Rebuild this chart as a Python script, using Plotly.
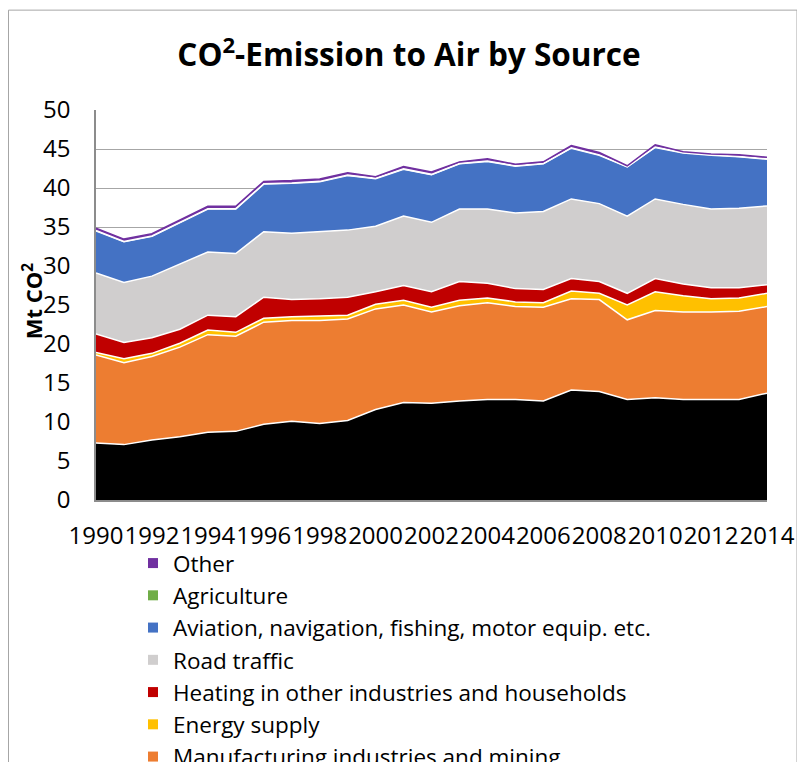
import plotly.graph_objects as go

years = list(range(1990, 2015))

oil_gas = [7.3, 7.1, 7.7, 8.1, 8.7, 8.8, 9.7, 10.1, 9.8, 10.2, 11.6, 12.5, 12.4,
           12.7, 12.9, 12.9, 12.7, 14.1, 13.9, 12.9, 13.1, 12.9, 12.9, 12.9, 13.7]
manufacturing = [11.3, 10.5, 10.7, 11.5, 12.5, 12.2, 13.1, 12.9, 13.2, 13.0, 12.9, 12.5, 11.7,
                 12.2, 12.4, 11.9, 12.0, 11.7, 11.8, 10.2, 11.2, 11.2, 11.2, 11.3, 11.1]
energy_supply = [0.3, 0.5, 0.4, 0.5, 0.6, 0.5, 0.5, 0.5, 0.6, 0.5, 0.6, 0.6, 0.6,
                 0.7, 0.6, 0.6, 0.6, 1.0, 0.8, 1.9, 2.4, 2.1, 1.7, 1.7, 1.7]
heating = [2.4, 2.1, 2.0, 1.8, 1.9, 2.0, 2.7, 2.2, 2.2, 2.3, 1.6, 1.9, 2.0,
           2.4, 1.9, 1.7, 1.7, 1.6, 1.5, 1.5, 1.7, 1.5, 1.4, 1.3, 1.1]
road_traffic = [7.8, 7.7, 7.9, 8.4, 8.1, 8.1, 8.4, 8.5, 8.6, 8.6, 8.4, 8.9, 8.9,
                9.3, 9.5, 9.7, 10.0, 10.2, 10.0, 9.9, 10.2, 10.2, 10.1, 10.2, 10.1]
aviation = [5.4, 5.2, 5.1, 5.3, 5.5, 5.7, 6.1, 6.4, 6.4, 7.0, 6.1, 6.0, 6.1,
            5.8, 6.1, 6.0, 6.1, 6.5, 6.2, 6.3, 6.6, 6.6, 6.9, 6.6, 6.0]
agriculture = [0.05, 0.05, 0.05, 0.05, 0.05, 0.05, 0.05, 0.05, 0.05, 0.05, 0.05, 0.05, 0.05,
               0.05, 0.05, 0.05, 0.05, 0.05, 0.05, 0.05, 0.05, 0.05, 0.05, 0.05, 0.05]
other = [0.3, 0.3, 0.3, 0.3, 0.3, 0.3, 0.3, 0.3, 0.3, 0.3, 0.2, 0.3, 0.3,
         0.2, 0.3, 0.2, 0.2, 0.3, 0.3, 0.1, 0.3, 0.1, 0.1, 0.2, 0.2]

series = [
    ("Oil and gas extraction", oil_gas, "#000000"),
    ("Manufacturing industries and mining", manufacturing, "#ED7D31"),
    ("Energy supply", energy_supply, "#FFC000"),
    ("Heating in other industries and households", heating, "#C00000"),
    ("Road traffic", road_traffic, "#D0CECE"),
    ("Aviation, navigation, fishing, motor equip. etc.", aviation, "#4472C4"),
    ("Agriculture", agriculture, "#70AD47"),
    ("Other", other, "#7030A0"),
]

FONT = "'Open Sans', Lato, sans-serif"

# The page body adds an 8px offset, so positions are given in screen
# pixels and shifted back by OFF.
OFF = 8
W, H = 805, 762
L, R, T, B = 96 - OFF, 767 - OFF, 109.5 - OFF, 500 - OFF

def px_x(px):
    return (px - OFF - L) / (R - L)

def px_y(py):
    return (B - (py - OFF)) / (B - T)

fig = go.Figure()
for name, vals, col in series:
    line_col = "#7030A0" if name == "Other" else "white"
    fig.add_trace(go.Scatter(
        x=years, y=vals, name=name, mode="lines", stackgroup="one",
        fillcolor=col, line=dict(color=line_col, width=1.5),
        showlegend=False, hoverinfo="x+y+name",
    ))

# legend entries (square swatches), listed top to bottom as in the reference
for name, vals, col in reversed(series):
    fig.add_trace(go.Scatter(
        x=[None], y=[None], name=name, mode="markers",
        marker=dict(symbol="square", size=10, color=col),
        showlegend=True,
    ))

frame = dict(type="line", xref="paper", yref="paper",
             line=dict(color="#A6A6A6", width=1))
shapes = [
    dict(frame, x0=px_x(8.5), x1=px_x(797), y0=px_y(9.5), y1=px_y(9.5)),
    dict(frame, x0=px_x(8.5), x1=px_x(8.5), y0=px_y(9.5), y1=px_y(800)),
    dict(frame, x0=px_x(797), x1=px_x(797), y0=px_y(9.5), y1=px_y(800)),
]

fig.update_layout(
    width=W, height=H,
    paper_bgcolor="white", plot_bgcolor="white",
    margin=dict(l=L, r=W - R, t=T, b=H - B, autoexpand=False),
    font=dict(family=FONT, size=22, color="black"),
    title=dict(text="<b>CO<sup>2</sup>-Emission to Air by Source</b>",
               x=(409 - OFF) / W, xref="container", xanchor="center",
               y=1 - (55 - OFF) / H, yref="container", yanchor="middle",
               font=dict(family=FONT, size=31.5, color="black")),
    xaxis=dict(range=[1990, 2014], tick0=1990, dtick=2, showgrid=False,
               showline=True, linecolor="#8C8C8C", linewidth=2,
               ticks="", zeroline=False, tickfont=dict(size=24),
               tickangle=0, ticklabelstandoff=13, fixedrange=True),
    yaxis=dict(range=[0, 50], tick0=0, dtick=5, showgrid=True,
               gridcolor="#A6A6A6", gridwidth=1, showline=True,
               linecolor="#8C8C8C", linewidth=1.5, ticks="",
               zeroline=False, tickfont=dict(size=24), fixedrange=True,
               ticklabelstandoff=19),
    legend=dict(x=px_x(133), y=px_y(542), xanchor="left", yanchor="top",
                traceorder="normal", font=dict(size=22.5), bgcolor="rgba(0,0,0,0)",
                tracegroupgap=0),
    annotations=[dict(text="<b>Mt CO<sup>2</sup></b>", xref="paper", yref="paper",
                      x=px_x(32), y=px_y(301), textangle=-90, showarrow=False,
                      xanchor="center", yanchor="middle",
                      font=dict(family=FONT, size=22, color="black"))],
    shapes=shapes,
    showlegend=True,
)

fig.write_html("out.html")
